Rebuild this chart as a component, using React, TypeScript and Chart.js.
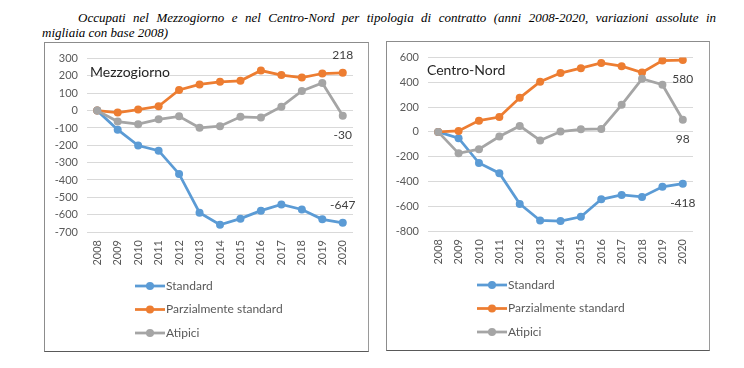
import React, { useEffect, useRef } from 'react';
import { Chart, registerables } from 'chart.js';

Chart.register(...registerables);

const years = ['2008', '2009', '2010', '2011', '2012', '2013', '2014', '2015', '2016', '2017', '2018', '2019', '2020'];
const seriesNames = ['Standard', 'Parzialmente standard', 'Atipici'];

const mezzStandard = [0, -110, -201, -231, -365, -589, -658, -623, -577, -541, -570, -627, -647];
const mezzParziale = [0, -11, 6, 25, 119, 151, 166, 172, 231, 205, 191, 214, 218];
const mezzAtipici = [0, -63, -78, -50, -33, -99, -90, -36, -40, 23, 113, 159, -30];

const cnStandard = [0, -51, -251, -333, -581, -715, -720, -685, -544, -509, -525, -443, -418];
const cnParziale = [0, 8, 91, 120, 275, 405, 475, 515, 557, 531, 480, 576, 580];
const cnAtipici = [0, -173, -139, -37, 48, -69, 3, 21, 24, 219, 429, 381, 98];

const mezzTicks = [-700, 300, 100];
const cnTicks = [-800, 600, 200];

const COLORS = ['#5B9BD5', '#ED7D31', '#A5A5A5'];
const FONT = 'Lato, "Noto Sans", sans-serif';

type PanelProps = {
  title: string;
  series: number[][];
  ticks: number[];
  labelAbove: boolean[];
  left: number;
  top: number;
  width: number;
  height: number;
  axisWidth: number;
  padRight: number;
  titleX: number;
  titleY: number;
};

function Panel(props: PanelProps) {
  const ref = useRef<HTMLCanvasElement | null>(null);
  useEffect(() => {
    if (!ref.current) return;
    const overlay = {
      id: 'overlay',
      afterDatasetsDraw(chart: any) {
        const ctx = chart.ctx;
        ctx.save();
        // last value labels
        ctx.font = `12px ${FONT}`;
        ctx.fillStyle = '#404040';
        ctx.textAlign = 'center';
        ctx.textBaseline = 'middle';
        chart.data.datasets.forEach((ds: any, i: number) => {
          const meta = chart.getDatasetMeta(i);
          const n = ds.data.length - 1;
          const pt = meta.data[n];
          const dy = props.labelAbove[i] ? -18 : 19;
          ctx.fillText(String(ds.data[n]), pt.x, pt.y + dy);
        });
        // panel title
        ctx.font = `14px ${FONT}`;
        ctx.fillStyle = '#262626';
        ctx.textAlign = 'left';
        ctx.fillText(props.title, props.titleX, props.titleY);
        // legend
        const base = chart.chartArea.bottom + 54;
        ctx.font = `12px ${FONT}`;
        chart.data.datasets.forEach((ds: any, i: number) => {
          const y = base + i * 23.5;
          ctx.strokeStyle = ds.borderColor;
          ctx.lineWidth = 2.75;
          ctx.beginPath();
          ctx.moveTo(90, y);
          ctx.lineTo(120, y);
          ctx.stroke();
          ctx.fillStyle = ds.borderColor;
          ctx.beginPath();
          ctx.arc(105, y, 4, 0, Math.PI * 2);
          ctx.fill();
          ctx.fillStyle = '#595959';
          ctx.fillText(ds.label, 121, y);
        });
        ctx.restore();
      },
    };
    const chart = new Chart(ref.current, {
      type: 'line',
      data: {
        labels: years,
        datasets: props.series.map((d, i) => ({
          label: seriesNames[i],
          data: d,
          borderColor: COLORS[i],
          backgroundColor: COLORS[i],
          pointBackgroundColor: COLORS[i],
          pointBorderColor: COLORS[i],
          borderWidth: 2.75,
          pointRadius: 4,
          pointBorderWidth: 0,
          tension: 0,
          order: 2 - i,
        })),
      },
      options: {
        animation: false,
        responsive: false,
        layout: { padding: { left: 0, right: props.padRight, top: 14, bottom: 79 } },
        plugins: { legend: { display: false }, tooltip: { enabled: false } },
        scales: {
          x: {
            offset: true,
            grid: { display: false, drawTicks: false },
            border: { display: false },
            ticks: {
              autoSkip: false,
              maxRotation: 90,
              minRotation: 90,
              padding: 8,
              color: '#595959',
              font: { family: FONT, size: 11 },
            },
            afterFit: (s: any) => {
              s.height = 40;
            },
          },
          y: {
            min: props.ticks[0],
            max: props.ticks[1],
            grid: { color: '#D9D9D9', lineWidth: 1, drawTicks: false },
            border: { display: false },
            ticks: {
              stepSize: props.ticks[2],
              padding: 9,
              color: '#595959',
              font: { family: FONT, size: 11 },
            },
            afterFit: (s: any) => {
              s.width = props.axisWidth;
            },
          },
        },
      },
      plugins: [overlay],
    });
    return () => chart.destroy();
  }, []);
  return (
    <div
      style={{
        position: 'absolute',
        left: props.left,
        top: props.top,
        width: props.width + 2,
        height: props.height + 2,
        boxSizing: 'border-box',
        borderLeft: '1.5px solid #8c8c8c',
        borderRight: '1.5px solid #9a9a9a',
        borderTop: '1px solid #8c8c8c',
        borderBottom: '1.5px solid #595959',
        background: '#fff',
      }}
    >
      <canvas ref={ref} width={props.width} height={props.height} style={{ display: 'block' }} />
    </div>
  );
}

export default function App() {
  return (
    <div style={{ position: 'absolute', left: 0, top: 0, width: 744, height: 368, background: '#fff', overflow: 'hidden' }}>
      <div
        style={{
          position: 'absolute',
          left: 42,
          top: 10,
          width: 674,
          fontFamily: '"Liberation Serif", "Times New Roman", serif',
          fontStyle: 'italic',
          fontSize: 13,
          lineHeight: '15px',
          color: '#000',
        }}
      >
        <div style={{ paddingLeft: 36, textAlign: 'justify', textAlignLast: 'justify', whiteSpace: 'nowrap' as any }}>
          Occupati nel Mezzogiorno e nel Centro-Nord per tipologia di contratto (anni 2008-2020, variazioni assolute in
        </div>
        <div>migliaia con base 2008)</div>
      </div>
      <Panel
        title="Mezzogiorno"
        series={[mezzStandard, mezzParziale, mezzAtipici]}
        ticks={mezzTicks}
        labelAbove={[true, true, false]}
        left={44}
        top={42}
        width={323}
        height={308}
        axisWidth={42}
        padRight={15}
        titleX={45}
        titleY={29}
      />
      <Panel
        title="Centro-Nord"
        series={[cnStandard, cnParziale, cnAtipici]}
        ticks={cnTicks}
        labelAbove={[false, false, false]}
        left={386}
        top={41}
        width={322}
        height={308}
        axisWidth={41}
        padRight={16}
        titleX={40}
        titleY={28}
      />
    </div>
  );
}
